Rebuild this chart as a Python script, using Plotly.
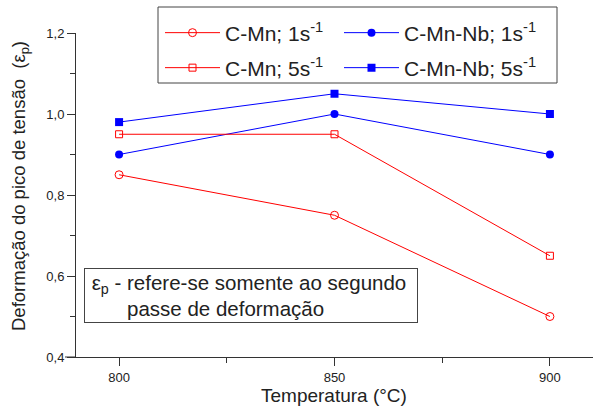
import plotly.graph_objects as go

temps = [800, 850, 900]
cmn_1 = [0.85, 0.75, 0.50]
cmnnb_1 = [0.90, 1.00, 0.90]
cmn_5 = [0.95, 0.95, 0.65]
cmnnb_5 = [0.98, 1.05, 1.00]

names = ["C-Mn; 1s<sup>-1</sup>", "C-Mn-Nb; 1s<sup>-1</sup>",
         "C-Mn; 5s<sup>-1</sup>", "C-Mn-Nb; 5s<sup>-1</sup>"]

RED = "#ff0000"
BLUE = "#0000ff"
TXT = "#222222"
FONT = "Liberation Sans, Arial, sans-serif"

fig = go.Figure()
fig.add_trace(go.Scatter(x=temps, y=cmn_1, name=names[0], mode="lines+markers", legend="legend",
                         line=dict(color=RED, width=1),
                         marker=dict(symbol="circle-open", size=8, color=RED, line=dict(width=1))))
fig.add_trace(go.Scatter(x=temps, y=cmnnb_1, name=names[1], mode="lines+markers", legend="legend2",
                         line=dict(color=BLUE, width=1),
                         marker=dict(symbol="circle", size=8, color=BLUE)))
fig.add_trace(go.Scatter(x=temps, y=cmn_5, name=names[2], mode="lines+markers", legend="legend3",
                         line=dict(color=RED, width=1),
                         marker=dict(symbol="square-open", size=7, color=RED, line=dict(width=1))))
fig.add_trace(go.Scatter(x=temps, y=cmnnb_5, name=names[3], mode="lines+markers", legend="legend4",
                         line=dict(color=BLUE, width=1),
                         marker=dict(symbol="square", size=8, color=BLUE)))

L, R, T, B = 76, 4, 33, 52
W, H = 597, 409
pw = W - L - R
ph = H - T - B

def px(xp):
    return (xp - L) / pw

def py(yp):
    return (H - B - yp) / ph

leg_common = dict(
    orientation="h", xanchor="left", yanchor="middle",
    borderwidth=0, bgcolor="rgba(0,0,0,0)", itemwidth=55,
    font=dict(size=21, family=FONT, color=TXT),
)

fig.update_layout(
    width=W, height=H,
    margin=dict(l=L, r=R, t=T, b=B),
    paper_bgcolor="white", plot_bgcolor="white",
    separators=",.",
    font=dict(family=FONT, color=TXT),
    showlegend=True,
    legend=dict(x=px(160), y=py(33), **leg_common),
    legend2=dict(x=px(339), y=py(33), **leg_common),
    legend3=dict(x=px(160), y=py(68), **leg_common),
    legend4=dict(x=px(339), y=py(68), **leg_common),
    xaxis=dict(
        range=[790, 910], tickvals=[800, 850, 900], ticks="outside", ticklen=8,
        tickcolor="#333333", showline=True, linecolor="#333333", linewidth=1,
        showgrid=False, zeroline=False,
        tickfont=dict(size=13, color=TXT),
        minor=dict(tickvals=[825, 875], ticks="outside", ticklen=5, tickcolor="#333333"),
    ),
    yaxis=dict(
        range=[0.4, 1.2], tickvals=[0.4, 0.6, 0.8, 1.0, 1.2], tickformat=".1f",
        ticks="outside", ticklen=8, tickcolor="#333333",
        showline=True, linecolor="#333333", linewidth=1,
        showgrid=False, zeroline=False,
        tickfont=dict(size=13, color=TXT),
        minor=dict(tickvals=[0.5, 0.7, 0.9, 1.1], ticks="outside", ticklen=5, tickcolor="#333333"),
    ),
)

# legend frame
fig.add_shape(type="rect", xref="paper", yref="paper", x0=px(158), x1=px(557), y0=py(83), y1=py(7),
              line=dict(color="#444444", width=1), fillcolor="rgba(0,0,0,0)", layer="above")

# x-axis line extends slightly left of the y-axis
fig.add_shape(type="line", xref="paper", yref="paper", x0=px(65), x1=0, y0=0, y1=0,
              line=dict(color="#333333", width=1))

# axis titles
fig.add_annotation(text="Temperatura (°C)", xref="paper", yref="paper",
                   x=px(334), y=py(395), xanchor="center", yanchor="middle",
                   showarrow=False, font=dict(size=19, family=FONT, color=TXT))
fig.add_annotation(text="Deformação do pico de tensão  (ε<sub>p</sub>)", xref="paper", yref="paper",
                   x=px(20), y=py(186), xanchor="center", yanchor="middle", textangle=-90,
                   showarrow=False, font=dict(size=18.5, family=FONT, color=TXT))

# note box
fig.add_annotation(text="\u00a0ε<sub>p</sub> - refere-se somente ao segundo<br>\u2002\u2002\u2002\u2002passe de deformação",
                   xref="paper", yref="paper", x=px(84), y=py(268), xanchor="left", yanchor="top",
                   align="left", showarrow=False, bordercolor="#444444", borderwidth=1, borderpad=1,
                   bgcolor="white", width=330, height=51,
                   font=dict(size=20.5, family=FONT, color=TXT))

fig.write_html("out.html")
